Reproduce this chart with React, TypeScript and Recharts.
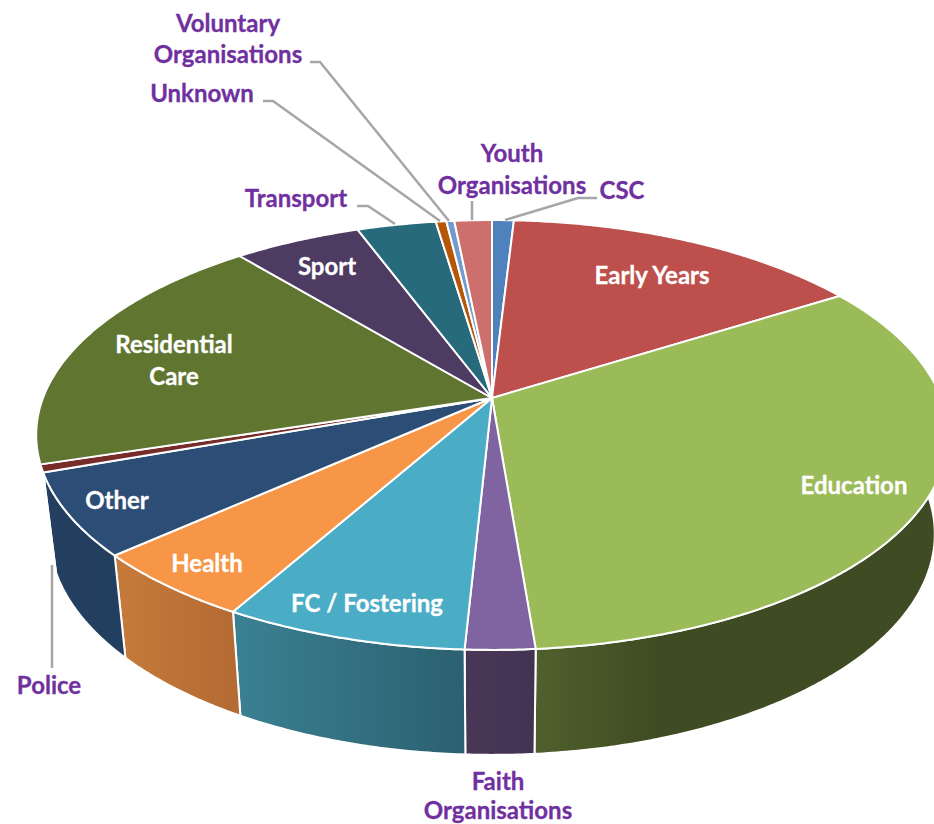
import React from "react";
import { PieChart, Pie } from "recharts";

// ---- data (share of total, %), clockwise from 12 o'clock ----
const names = ["CSC", "Early Years", "Education", "Faith Organisations", "FC / Fostering", "Health", "Other", "Police", "Residential Care", "Sport", "Transport", "Unknown", "Voluntary Organisations", "Youth Organisations"];
const shares = [0.91, 15.12, 32.67, 2.09, 7.35, 5.19, 6.19, 0.58, 18.89, 5.33, 3.31, 0.44, 0.33, 1.57];
const topColors = ["#4F81BD", "#BD4F4C", "#9BBB59", "#8064A2", "#4BACC6", "#F79646", "#2C4D75", "#772C2A", "#5F7530", "#4D3B62", "#276A7C", "#B65708", "#729ACA", "#CD706D"];
const wallFrom = ["#3B6190", "#8E3B39", "#50602D", "#4A3758", "#3A8193", "#C67B3A", "#243F60", "#5A2120", "#47581F", "#3A2C4A", "#1D505D", "#884106", "#567498", "#9A5452"];
const wallTo = ["#3B6190", "#8E3B39", "#3F4B22", "#433353", "#2B6070", "#B36A33", "#233F5F", "#5A2120", "#47581F", "#3A2C4A", "#1D505D", "#884106", "#567498", "#9A5452"];

const tableRows = names.map((name, i) => ({ name, value: shares[i], fill: topColors[i] }));

// ---- drawing layout, kept apart from the data ----
const PURPLE = "#7030A0";
const WHITE = "#FFFFFF";
const FONT = "Lato, 'Open Sans', sans-serif";
const FONT_SIZE = 24;
const labelLayout: Record<string, { x: number; y: number[]; lines: string[]; color: string; leader?: number[][] }> = {
  "CSC": { x: 622, y: [199], lines: ["CSC"], color: PURPLE, leader: [[597, 198], [578, 198], [505, 220]] },
  "Early Years": { x: 652, y: [284], lines: ["Early Years"], color: WHITE },
  "Education": { x: 854, y: [494], lines: ["Education"], color: WHITE },
  "Faith Organisations": { x: 498, y: [790, 819], lines: ["Faith", "Organisations"], color: PURPLE },
  "FC / Fostering": { x: 367, y: [612], lines: ["FC / Fostering"], color: WHITE },
  "Health": { x: 207, y: [572], lines: ["Health"], color: WHITE },
  "Other": { x: 117, y: [509], lines: ["Other"], color: WHITE },
  "Police": { x: 49, y: [694], lines: ["Police"], color: PURPLE, leader: [[52, 668], [52, 565]] },
  "Residential Care": { x: 174, y: [353, 385], lines: ["Residential", "Care"], color: WHITE },
  "Sport": { x: 327, y: [275], lines: ["Sport"], color: WHITE },
  "Transport": { x: 296, y: [207], lines: ["Transport"], color: PURPLE, leader: [[357, 206], [368, 206], [395, 224]] },
  "Unknown": { x: 202, y: [102], lines: ["Unknown"], color: PURPLE, leader: [[263, 101], [273, 101], [440, 221]] },
  "Voluntary Organisations": { x: 228, y: [32, 63], lines: ["Voluntary", "Organisations"], color: PURPLE, leader: [[310, 62], [320, 62], [449, 221]] },
  "Youth Organisations": { x: 512, y: [162, 194], lines: ["Youth", "Organisations"], color: PURPLE, leader: [[472, 201], [472, 220]] },
};

// perspective of the disc: the circle is projected to an off-centre ellipse
const Y_RATIO = 0.4645;
const PERSP = 0.172;
const TOP_CX_Y = 435, TOP_RX = 456, TOP_RY = 215;
const BOT_CX_Y = 534, BOT_RX = 443, BOT_RY = 221;
const WALL_FROM_DEG = 60, WALL_TO_DEG = 252.4;

const project = (cx: number, cy: number, r: number, cwDeg: number) => {
  const t = (cwDeg * Math.PI) / 180;
  const u = Math.sin(t), v = -Math.cos(t), w = 1 - PERSP * v;
  return [cx + (r * u) / w, cy + (r * Y_RATIO * v) / w];
};
const lower = (cx: number, p: number[]) => [
  cx + ((p[0] - cx) * BOT_RX) / TOP_RX,
  BOT_CX_Y + ((p[1] - TOP_CX_Y) * BOT_RY) / TOP_RY,
];
const rim = (cx: number, cy: number, r: number, a: number, b: number) => {
  const pts: number[][] = [];
  const n = Math.max(2, Math.ceil(Math.abs(b - a) / 0.5));
  for (let i = 0; i <= n; i++) pts.push(project(cx, cy, r, a + ((b - a) * i) / n));
  return pts;
};
const toPath = (pts: number[][]) => "M" + pts.map((p) => `${p[0].toFixed(2)},${p[1].toFixed(2)}`).join("L") + "Z";

const TopSlice = (props: any) => {
  const { cx, cy, outerRadius, startAngle, endAngle, fill } = props;
  const a = 90 - startAngle, b = 90 - endAngle;
  return <path d={toPath([[cx, cy], ...rim(cx, cy, outerRadius, a, b)])} fill={fill} stroke="#FFFFFF" strokeWidth={2} strokeLinejoin="round" />;
};

const WallSlice = (props: any) => {
  const { cx, cy, outerRadius, startAngle, endAngle, name } = props;
  const a = Math.max(90 - startAngle, WALL_FROM_DEG), b = Math.min(90 - endAngle, WALL_TO_DEG);
  if (b <= a) return null;
  const upper = rim(cx, cy, outerRadius, a, b);
  const bottom = upper.map((p) => lower(cx, p)).reverse();
  return <path d={toPath([...upper, ...bottom])} fill={`url(#wall-${names.indexOf(name)})`} stroke="#FFFFFF" strokeWidth={2} strokeLinejoin="round" />;
};

const SliceLabel = (props: any) => {
  const l = labelLayout[props.name];
  if (!l) return null;
  return (
    <g>
      {l.leader && <polyline points={l.leader.map((p) => p.join(",")).join(" ")} fill="none" stroke="#A6A6A6" strokeWidth={2.5} />}
      {l.lines.map((line, i) => (
        <text key={line} x={l.x} y={l.y[i]} textAnchor="middle" fill={l.color} stroke={l.color} strokeWidth={0.3} fontFamily={FONT} fontWeight={700} fontSize={FONT_SIZE}>
          {line}
        </text>
      ))}
    </g>
  );
};

export default function App() {
  return (
    <div style={{ position: "absolute", left: 0, top: 0, width: 934, height: 824, overflow: "hidden", background: "#fff" }}>
      <PieChart width={934} height={824} margin={{ top: 0, right: 0, bottom: 0, left: 0 }}>
        <defs>
          {names.map((n, i) => (
            <linearGradient key={n} id={`wall-${i}`} x1="0" y1="0" x2="1" y2="0">
              <stop offset="0" stopColor={wallFrom[i]} />
              <stop offset={n === "Education" ? "0.3" : "1"} stopColor={wallTo[i]} />
              <stop offset="1" stopColor={wallTo[i]} />
            </linearGradient>
          ))}
        </defs>
        <Pie data={tableRows} dataKey="value" nameKey="name" cx={492} cy={398} outerRadius={449} startAngle={90} endAngle={-270} isAnimationActive={false} shape={WallSlice} label={false} labelLine={false} />
        <Pie data={tableRows} dataKey="value" nameKey="name" cx={492} cy={398} outerRadius={449} startAngle={90} endAngle={-270} isAnimationActive={false} shape={TopSlice} label={SliceLabel} labelLine={false} />
      </PieChart>
    </div>
  );
}
